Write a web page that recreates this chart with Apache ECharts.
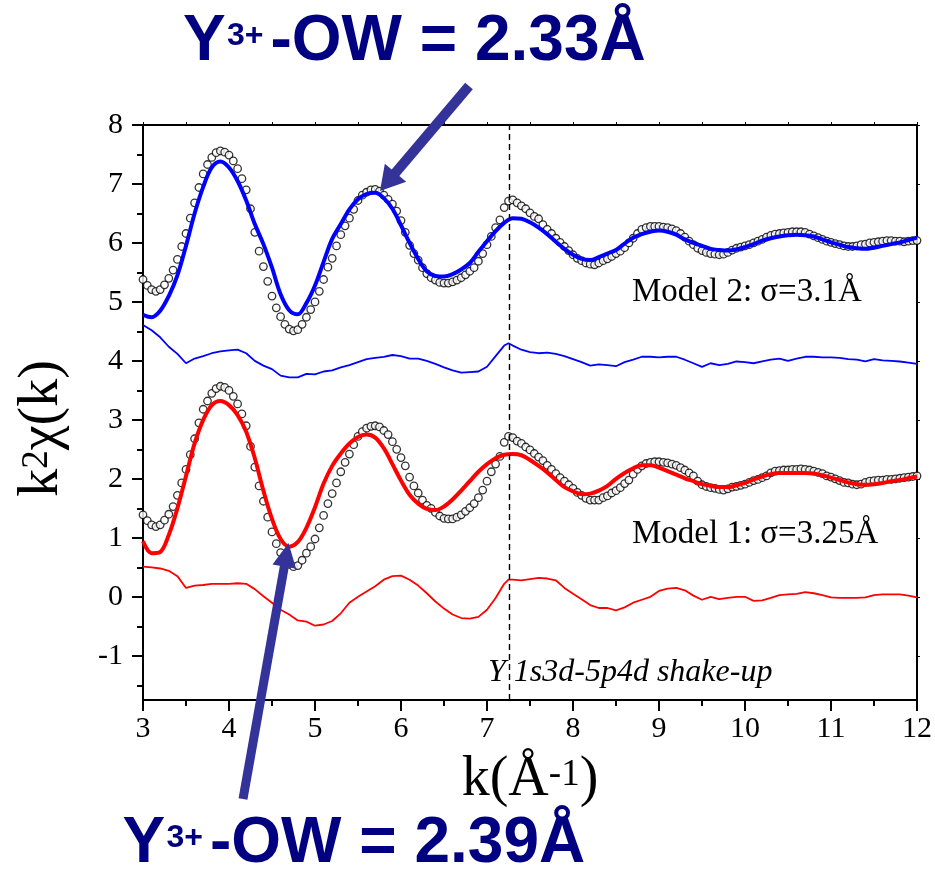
<!DOCTYPE html>
<html>
<head>
<meta charset="utf-8">
<script src="https://cdn.jsdelivr.net/npm/echarts@6/dist/echarts.min.js"></script>
<style>
  html, body { margin: 0; padding: 0; background: #fff; }
  #chart { width: 935px; height: 869px; }
</style>
</head>
<body>
<div id="chart"></div>
<script>
// Measured k grid of the EXAFS spectrum (1/Å)
const DATA_K = [
  3, 3.05, 3.1, 3.15, 3.2, 3.25, 3.3, 3.35, 3.4, 3.45, 3.5, 3.55, 3.6, 3.65, 3.7, 3.75, 3.8, 3.85, 3.9, 3.95,
  4, 4.05, 4.1, 4.15, 4.2, 4.25, 4.3, 4.35, 4.4, 4.45, 4.5, 4.55, 4.6, 4.65, 4.7, 4.75, 4.8, 4.85, 4.9, 4.95,
  5, 5.05, 5.1, 5.15, 5.2, 5.25, 5.3, 5.35, 5.4, 5.45, 5.5, 5.55, 5.6, 5.65, 5.7, 5.75, 5.8, 5.85, 5.9, 5.95,
  6, 6.05, 6.1, 6.15, 6.2, 6.25, 6.3, 6.35, 6.4, 6.45, 6.5, 6.55, 6.6, 6.65, 6.7, 6.75, 6.8, 6.85, 6.9, 6.95,
  7, 7.05, 7.1, 7.15, 7.2, 7.25, 7.3, 7.35, 7.4, 7.45, 7.5, 7.55, 7.6, 7.65, 7.7, 7.75, 7.8, 7.85, 7.9, 7.95,
  8, 8.05, 8.1, 8.15, 8.2, 8.25, 8.3, 8.35, 8.4, 8.45, 8.5, 8.55, 8.6, 8.65, 8.7, 8.75, 8.8, 8.85, 8.9, 8.95,
  9, 9.05, 9.1, 9.15, 9.2, 9.25, 9.3, 9.35, 9.4, 9.45, 9.5, 9.55, 9.6, 9.65, 9.7, 9.75, 9.8, 9.85, 9.9, 9.95,
  10, 10.05, 10.1, 10.15, 10.2, 10.25, 10.3, 10.35, 10.4, 10.45, 10.5, 10.55, 10.6, 10.65, 10.7, 10.75, 10.8, 10.85, 10.9, 10.95,
  11, 11.05, 11.1, 11.15, 11.2, 11.25, 11.3, 11.35, 11.4, 11.45, 11.5, 11.55, 11.6, 11.65, 11.7, 11.75, 11.8, 11.85, 11.9, 11.95,
  12
];

// Experimental k^2 chi(k), lower trace (Model 1 panel)
const MODEL1_DATA = [
  1.39, 1.29, 1.22, 1.19, 1.22, 1.30, 1.40, 1.53, 1.72, 1.93, 2.16, 2.41, 2.68, 2.95, 3.18, 3.32, 3.45, 3.53, 3.57, 3.55,
  3.50, 3.40, 3.27, 3.10, 2.90, 2.55, 2.20, 1.88, 1.62, 1.35, 1.10, 0.90, 0.75, 0.63, 0.55, 0.51, 0.53, 0.62, 0.74, 0.85,
  0.98, 1.17, 1.38, 1.58, 1.75, 1.93, 2.12, 2.28, 2.42, 2.58, 2.72, 2.80, 2.86, 2.89, 2.90, 2.88, 2.82, 2.75, 2.63, 2.50,
  2.36, 2.22, 2.03, 1.88, 1.76, 1.64, 1.55, 1.50, 1.43, 1.37, 1.33, 1.32, 1.32, 1.35, 1.39, 1.45, 1.51, 1.58, 1.68, 1.81,
  1.96, 2.12, 2.25, 2.38, 2.62, 2.72, 2.70, 2.64, 2.60, 2.54, 2.49, 2.43, 2.37, 2.31, 2.23, 2.16, 2.09, 2.02, 1.96, 1.90,
  1.84, 1.77, 1.72, 1.67, 1.64, 1.64, 1.64, 1.68, 1.71, 1.76, 1.80, 1.85, 1.92, 1.98, 2.08, 2.16, 2.22, 2.26, 2.28, 2.29,
  2.29, 2.28, 2.27, 2.25, 2.23, 2.19, 2.15, 2.10, 2.05, 1.96, 1.90, 1.87, 1.85, 1.84, 1.82, 1.81, 1.83, 1.86, 1.87, 1.89,
  1.91, 1.94, 1.97, 1.99, 2.02, 2.05, 2.10, 2.13, 2.14, 2.15, 2.15, 2.16, 2.16, 2.17, 2.16, 2.15, 2.13, 2.11, 2.09, 2.05,
  2.03, 2.00, 1.97, 1.94, 1.93, 1.91, 1.90, 1.91, 1.94, 1.96, 1.97, 1.98, 1.98, 1.99, 1.99, 2.00, 2.01, 2.02, 2.03, 2.04,
  2.05
];

// Experimental k^2 chi(k), upper trace (Model 2 panel)
const MODEL2_DATA = [
  5.38, 5.28, 5.21, 5.18, 5.21, 5.29, 5.40, 5.54, 5.72, 5.94, 6.16, 6.42, 6.68, 6.94, 7.17, 7.33, 7.45, 7.53, 7.56, 7.54,
  7.49, 7.39, 7.26, 7.09, 6.90, 6.58, 6.18, 5.86, 5.60, 5.35, 5.10, 4.90, 4.75, 4.62, 4.54, 4.51, 4.53, 4.62, 4.74, 4.87,
  5.00, 5.18, 5.38, 5.59, 5.74, 5.95, 6.14, 6.29, 6.42, 6.57, 6.72, 6.81, 6.86, 6.90, 6.91, 6.88, 6.81, 6.74, 6.66, 6.54,
  6.38, 6.18, 5.96, 5.82, 5.71, 5.58, 5.48, 5.41, 5.37, 5.33, 5.32, 5.32, 5.34, 5.37, 5.41, 5.46, 5.52, 5.58, 5.69, 5.82,
  5.97, 6.11, 6.26, 6.39, 6.60, 6.71, 6.73, 6.68, 6.63, 6.58, 6.51, 6.45, 6.41, 6.31, 6.23, 6.16, 6.08, 6.01, 5.94, 5.87,
  5.80, 5.74, 5.70, 5.66, 5.64, 5.63, 5.66, 5.70, 5.73, 5.77, 5.82, 5.86, 5.92, 6.00, 6.08, 6.16, 6.23, 6.26, 6.28, 6.28,
  6.28, 6.27, 6.26, 6.24, 6.21, 6.16, 6.10, 6.03, 5.97, 5.91, 5.87, 5.84, 5.82, 5.81, 5.80, 5.81, 5.84, 5.88, 5.91, 5.93,
  5.95, 5.97, 6.00, 6.03, 6.06, 6.10, 6.13, 6.15, 6.16, 6.17, 6.18, 6.19, 6.19, 6.19, 6.18, 6.15, 6.12, 6.09, 6.06, 6.03,
  6.01, 5.99, 5.97, 5.95, 5.94, 5.94, 5.95, 5.97, 5.98, 6.00, 6.01, 6.02, 6.03, 6.04, 6.04, 6.03, 6.03, 6.02, 6.03, 6.04,
  6.04
];

// k grid of the fitted curves
const FIT_K = [
  3, 3.1, 3.2, 3.3, 3.4, 3.5, 3.6, 3.7, 3.8, 3.9,
  4, 4.1, 4.2, 4.3, 4.4, 4.5, 4.6, 4.7, 4.8, 4.9,
  5, 5.1, 5.2, 5.3, 5.4, 5.5, 5.6, 5.7, 5.8, 5.9,
  6, 6.1, 6.2, 6.3, 6.4, 6.5, 6.6, 6.7, 6.8, 6.9,
  7, 7.1, 7.2, 7.3, 7.4, 7.5, 7.6, 7.7, 7.8, 7.9,
  8, 8.1, 8.2, 8.3, 8.4, 8.5, 8.6, 8.7, 8.8, 8.9,
  9, 9.1, 9.2, 9.3, 9.4, 9.5, 9.6, 9.7, 9.8, 9.9,
  10, 10.1, 10.2, 10.3, 10.4, 10.5, 10.6, 10.7, 10.8, 10.9,
  11, 11.1, 11.2, 11.3, 11.4, 11.5, 11.6, 11.7, 11.8, 11.9,
  12
];

// Model 1 fit (sigma = 3.25 Å)
const MODEL1_FIT = [
  0.94, 0.74, 0.76, 1.05, 1.50, 2.05, 2.60, 3.00, 3.25, 3.32,
  3.25, 3.08, 2.80, 2.35, 1.80, 1.32, 0.98, 0.85, 0.93, 1.17,
  1.52, 1.92, 2.22, 2.43, 2.60, 2.71, 2.75, 2.70, 2.52, 2.25,
  1.97, 1.73, 1.58, 1.49, 1.47, 1.53, 1.65, 1.80, 1.96, 2.12,
  2.25, 2.35, 2.41, 2.42, 2.40, 2.32, 2.22, 2.11, 1.98, 1.86,
  1.79, 1.74, 1.75, 1.80, 1.88, 2.00, 2.10, 2.18, 2.23, 2.23,
  2.19, 2.13, 2.07, 2.01, 1.96, 1.91, 1.88, 1.86, 1.86, 1.89,
  1.93, 1.99, 2.04, 2.08, 2.10, 2.10, 2.10, 2.10, 2.09, 2.06,
  2.02, 1.98, 1.94, 1.91, 1.90, 1.91, 1.93, 1.96, 1.98, 2.01,
  2.04
];

// Model 2 fit (sigma = 3.1 Å)
const MODEL2_FIT = [
  4.78, 4.74, 4.85, 5.10, 5.45, 5.95, 6.50, 6.95, 7.28, 7.38,
  7.28, 7.05, 6.72, 6.32, 5.98, 5.58, 5.13, 4.86, 4.79, 4.98,
  5.28, 5.68, 6.07, 6.32, 6.57, 6.74, 6.83, 6.85, 6.76, 6.58,
  6.30, 6.00, 5.73, 5.52, 5.44, 5.43, 5.47, 5.55, 5.66, 5.85,
  6.03, 6.20, 6.34, 6.42, 6.41, 6.35, 6.26, 6.15, 6.02, 5.90,
  5.80, 5.73, 5.71, 5.76, 5.82, 5.88, 5.99, 6.09, 6.15, 6.19,
  6.21, 6.19, 6.14, 6.06, 6.00, 5.95, 5.90, 5.88, 5.87, 5.89,
  5.93, 5.98, 6.04, 6.08, 6.11, 6.13, 6.14, 6.13, 6.11, 6.06,
  6.01, 5.97, 5.93, 5.91, 5.90, 5.92, 5.95, 5.98, 6.01, 6.05,
  6.09
];

// k grid of the residual traces (extra point at the shake-up edge)
const RES_K = [
  3, 3.1, 3.2, 3.3, 3.4, 3.5, 3.6, 3.7, 3.8, 3.9,
  4, 4.1, 4.2, 4.3, 4.4, 4.5, 4.6, 4.7, 4.8, 4.9,
  5, 5.1, 5.2, 5.3, 5.4, 5.5, 5.6, 5.7, 5.8, 5.9,
  6, 6.1, 6.2, 6.3, 6.4, 6.5, 6.6, 6.7, 6.8, 6.9,
  7, 7.1, 7.2, 7.25, 7.3, 7.4, 7.5, 7.6, 7.7, 7.8, 7.9,
  8, 8.1, 8.2, 8.3, 8.4, 8.5, 8.6, 8.7, 8.8, 8.9,
  9, 9.1, 9.2, 9.3, 9.4, 9.5, 9.6, 9.7, 9.8, 9.9,
  10, 10.1, 10.2, 10.3, 10.4, 10.5, 10.6, 10.7, 10.8, 10.9,
  11, 11.1, 11.2, 11.3, 11.4, 11.5, 11.6, 11.7, 11.8, 11.9,
  12
];

// Residual of Model 1 (plotted around 0)
const MODEL1_RES = [
  0.51, 0.50, 0.48, 0.44, 0.35, 0.15, 0.19, 0.20, 0.22, 0.22,
  0.22, 0.23, 0.22, 0.13, 0.01, -0.10, -0.22, -0.30, -0.40, -0.42,
  -0.49, -0.47, -0.41, -0.28, -0.10, 0.00, 0.09, 0.18, 0.29, 0.35,
  0.36, 0.29, 0.19, 0.06, -0.08, -0.20, -0.30, -0.36, -0.37, -0.34,
  -0.22, -0.02, 0.22, 0.29, 0.29, 0.28, 0.30, 0.32, 0.31, 0.28, 0.15,
  0.05, -0.04, -0.14, -0.19, -0.19, -0.23, -0.18, -0.10, -0.05, 0.00,
  0.10, 0.14, 0.15, 0.11, 0.02, -0.05, 0.00, -0.04, -0.02, 0.00,
  0.00, -0.07, -0.06, -0.02, 0.03, 0.04, 0.05, 0.08, 0.06, 0.03,
  -0.01, -0.02, -0.02, -0.02, -0.01, 0.03, 0.04, 0.04, 0.04, 0.02,
  -0.01
];

// Residual of Model 2 (plotted around 4)
const MODEL2_RES = [
  4.61, 4.52, 4.40, 4.24, 4.12, 3.96, 4.04, 4.08, 4.13, 4.16,
  4.18, 4.19, 4.13, 4.00, 3.92, 3.86, 3.75, 3.72, 3.72, 3.78,
  3.77, 3.82, 3.84, 3.89, 3.93, 3.98, 4.03, 4.05, 4.07, 4.10,
  4.08, 4.04, 4.04, 4.00, 3.95, 3.89, 3.84, 3.80, 3.81, 3.82,
  3.90, 4.08, 4.26, 4.30, 4.26, 4.19, 4.15, 4.13, 4.14, 4.12, 4.08,
  4.03, 3.98, 3.92, 3.94, 3.93, 3.91, 3.98, 4.02, 4.07, 4.07,
  4.06, 4.07, 4.07, 4.02, 3.96, 3.90, 3.96, 3.93, 3.95, 3.99,
  3.98, 3.96, 3.99, 4.02, 4.04, 4.00, 4.04, 4.07, 4.07, 4.06,
  4.06, 4.05, 4.03, 4.02, 3.99, 4.03, 4.01, 4.00, 3.99, 3.97,
  3.95
];

// Axis ticks
const Y_MAJOR_TICKS = [-1, 0, 1, 2, 3, 4, 5, 6, 7, 8];
const Y_MINOR_TICKS = [-1.5, -0.5, 0.5, 1.5, 2.5, 3.5, 4.5, 5.5, 6.5, 7.5];
const SHAKE_UP_EDGE_K = 7.26;

const SERIF = '"Liberation Serif", "Times New Roman", serif';
const SANS = '"Liberation Sans", Arial, sans-serif';
const NAVY = '#000080';
const ARROW = '#333399';

const pairs = (xs, ys) => xs.map((x, i) => [x, ys[i]]);

// Arrow annotation: shaft plus filled head
function arrow(tail, tip, shaftWidth, headLength, headHalfWidth) {
  const dx = tip[0] - tail[0], dy = tip[1] - tail[1];
  const len = Math.hypot(dx, dy);
  const ux = dx / len, uy = dy / len;
  const bx = tip[0] - ux * headLength, by = tip[1] - uy * headLength;
  const nx = -uy, ny = ux;
  return [
    { type: 'line', z: 100, silent: true,
      shape: { x1: tail[0], y1: tail[1], x2: bx + ux * 2, y2: by + uy * 2 },
      style: { stroke: ARROW, lineWidth: shaftWidth, lineCap: 'butt' } },
    { type: 'polygon', z: 100, silent: true,
      shape: { points: [tip, [bx + nx * headHalfWidth, by + ny * headHalfWidth], [bx - nx * headHalfWidth, by - ny * headHalfWidth]] },
      style: { fill: ARROW } }
  ];
}

// "Y3+-OW = d" headline with a raised charge
function bondTitle(x, baseline, value) {
  const big = 64, small = 32;
  return [
    { type: 'text', x: x, y: baseline - 0.3465 * big, z: 100, silent: true,
      style: { text: 'Y', font: `bold ${big}px ${SANS}`, fill: NAVY, verticalAlign: 'middle' } },
    { type: 'text', x: x + 44, y: baseline - 18 - 0.3465 * small, z: 100, silent: true,
      style: { text: '3+', font: `bold ${small}px ${SANS}`, fill: NAVY, verticalAlign: 'middle' } },
    { type: 'text', x: x + 87.5, y: baseline - 0.3465 * big, z: 100, silent: true,
      style: { text: '-OW = ' + value + 'Å', font: `bold ${big}px ${SANS}`, fill: NAVY, verticalAlign: 'middle' } }
  ];
}

function serifNote(x, baseline, text, size, italic) {
  return { type: 'text', x: x, y: baseline - 0.3375 * size, z: 90, silent: true,
    style: { text: text, font: `${italic ? 'italic ' : ''}${size}px ${SERIF}`, fill: '#000', verticalAlign: 'middle' } };
}

const supRich = {
  s: { fontFamily: SERIF, fontSize: 37, color: '#000', verticalAlign: 'middle', padding: [0, 0, 9, 0] }
};

const chart = echarts.init(document.getElementById('chart'), null, { renderer: 'canvas' });

chart.setOption({
  animation: false,
  backgroundColor: '#fff',
  textStyle: { fontFamily: SERIF },
  grid: { left: 143, right: 17, top: 125, bottom: 169 },
  xAxis: [
    {
      type: 'value', position: 'bottom', min: 3, max: 12, interval: 1,
      name: 'k(Å{s|-1})', nameLocation: 'middle', nameGap: 52,
      nameTextStyle: { fontFamily: SERIF, fontSize: 56, color: '#000', rich: supRich },
      axisLine: { show: true, onZero: false, lineStyle: { color: '#000', width: 2 } },
      axisTick: { show: true, inside: false, length: 11, lineStyle: { color: '#000', width: 2 } },
      minorTick: { show: true, splitNumber: 2, length: 6, lineStyle: { color: '#000', width: 2 } },
      splitLine: { show: false },
      axisLabel: { fontFamily: SERIF, fontSize: 30, color: '#000', margin: 14 }
    },
    {
      type: 'value', position: 'top', min: 3, max: 12, interval: 0.5,
      axisLine: { show: true, onZero: false, lineStyle: { color: '#000', width: 2 } },
      axisTick: { show: true, inside: false, length: 3, lineStyle: { color: '#000', width: 1 } },
      splitLine: { show: false },
      axisLabel: { show: false }
    }
  ],
  yAxis: [
    {
      type: 'value', position: 'left', min: -1.75, max: 8,
      name: 'k{s|2}χ(k)', nameLocation: 'middle', nameGap: 73,
      nameTextStyle: { fontFamily: SERIF, fontSize: 56, color: '#000', rich: supRich, padding: [0, 32, 0, 0] },
      axisLine: { show: true, onZero: false, lineStyle: { color: '#000', width: 2 } },
      axisTick: { show: true, inside: false, length: 11, customValues: Y_MAJOR_TICKS, lineStyle: { color: '#000', width: 2 } },
      splitLine: { show: false },
      axisLabel: { fontFamily: SERIF, fontSize: 30, color: '#000', margin: 20, customValues: Y_MAJOR_TICKS }
    },
    {
      type: 'value', position: 'left', min: -1.75, max: 8,
      axisLine: { show: false },
      axisTick: { show: true, inside: false, length: 6, customValues: Y_MINOR_TICKS, lineStyle: { color: '#000', width: 2 } },
      splitLine: { show: false },
      axisLabel: { show: false }
    },
    {
      type: 'value', position: 'right', min: -1.75, max: 8,
      axisLine: { show: true, onZero: false, lineStyle: { color: '#000', width: 2 } },
      axisTick: { show: true, inside: false, length: 3, customValues: Y_MAJOR_TICKS, lineStyle: { color: '#000', width: 1 } },
      splitLine: { show: false },
      axisLabel: { show: false }
    }
  ],
  series: [
    {
      name: 'Model 1 residual', type: 'line', xAxisIndex: 0, yAxisIndex: 0,
      data: pairs(RES_K, MODEL1_RES), showSymbol: false, silent: true,
      lineStyle: { color: '#ff0000', width: 1.8 }
    },
    {
      name: 'Model 2 residual', type: 'line', xAxisIndex: 0, yAxisIndex: 0,
      data: pairs(RES_K, MODEL2_RES), showSymbol: false, silent: true,
      lineStyle: { color: '#0000ff', width: 1.8 }
    },
    {
      name: 'Data (Model 1)', type: 'scatter', xAxisIndex: 0, yAxisIndex: 0,
      data: pairs(DATA_K, MODEL1_DATA), symbol: 'circle', symbolSize: 7.5, silent: true,
      itemStyle: { color: '#fff', borderColor: '#000', borderWidth: 1.3 },
      markLine: {
        silent: true, symbol: ['none', 'none'], label: { show: false },
        lineStyle: { color: '#000', type: [6, 4], width: 1.4 },
        data: [{ xAxis: SHAKE_UP_EDGE_K }]
      }
    },
    {
      name: 'Data (Model 2)', type: 'scatter', xAxisIndex: 0, yAxisIndex: 0,
      data: pairs(DATA_K, MODEL2_DATA), symbol: 'circle', symbolSize: 7.5, silent: true,
      itemStyle: { color: '#fff', borderColor: '#000', borderWidth: 1.3 }
    },
    {
      name: 'Model 1 fit', type: 'line', xAxisIndex: 0, yAxisIndex: 0,
      data: pairs(FIT_K, MODEL1_FIT), showSymbol: false, smooth: 0.35, silent: true,
      lineStyle: { color: '#ff0000', width: 4 }
    },
    {
      name: 'Model 2 fit', type: 'line', xAxisIndex: 0, yAxisIndex: 0,
      data: pairs(FIT_K, MODEL2_FIT), showSymbol: false, smooth: 0.35, silent: true,
      lineStyle: { color: '#0000ff', width: 4 }
    }
  ],
  graphic: [
    serifNote(632, 303, 'Model 2: σ=3.1Å', 33, false),
    serifNote(632, 545, 'Model 1: σ=3.25Å', 33, false),
    serifNote(488, 683, 'Y 1s3d-5p4d shake-up', 32, true),
    ...bondTitle(183, 65, '2.33'),
    ...bondTitle(122.5, 867, '2.39'),
    ...arrow([469, 86], [380, 191], 10, 24, 14),
    ...arrow([243, 799], [288.5, 543], 9, 24, 12)
  ]
});
</script>
</body>
</html>
